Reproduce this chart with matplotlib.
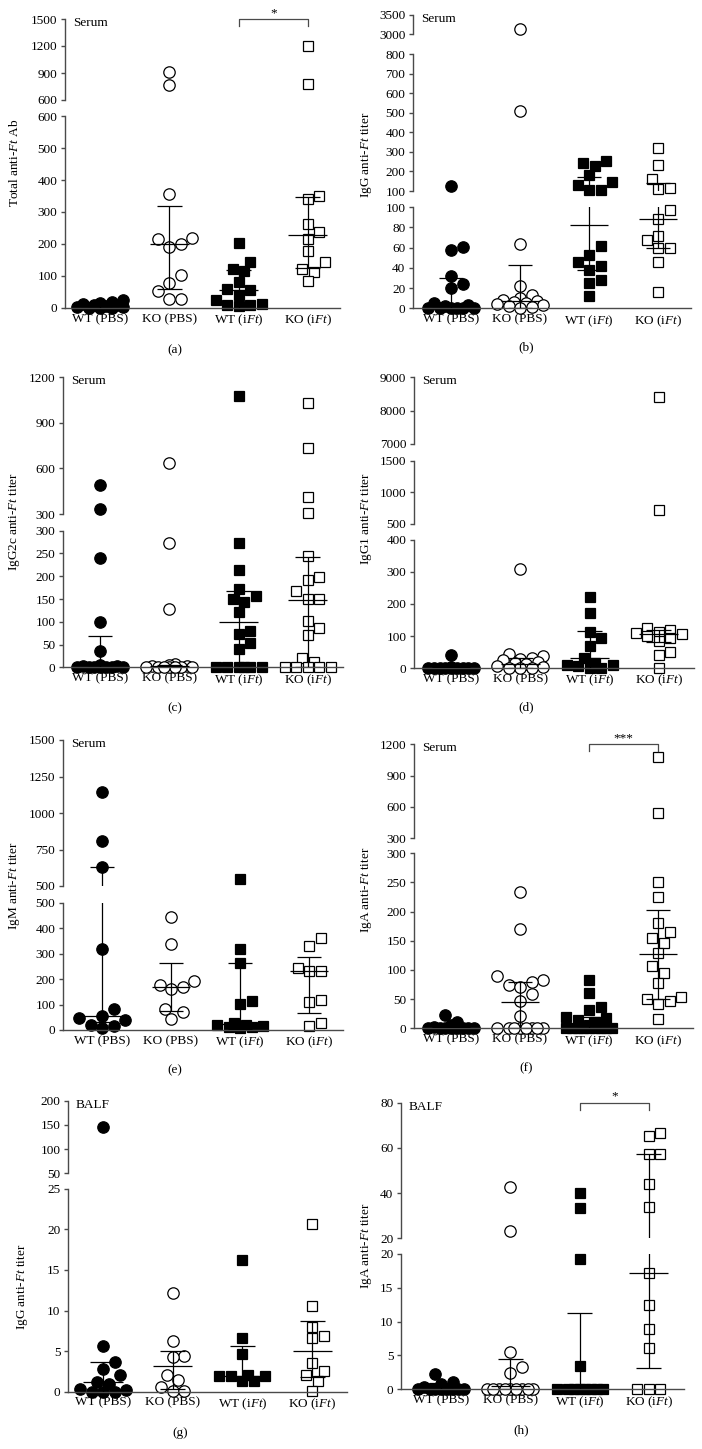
import matplotlib
matplotlib.use('Agg')
import matplotlib.pyplot as plt
import numpy as np

plt.rcParams['font.family'] = ['Liberation Serif', 'DejaVu Serif']
plt.rcParams['mathtext.fontset'] = 'custom'
plt.rcParams['mathtext.rm'] = 'Liberation Serif'
plt.rcParams['mathtext.it'] = 'Liberation Serif:italic'

W, H = 702, 1449
FS = 9.5
SPINE = '#4a4a4a'

groups = ['WT (PBS)', 'KO (PBS)', 'WT (i$\\mathit{Ft}$)', 'KO (i$\\mathit{Ft}$)']

# (a) total anti-Ft Ab, serum
total_ab = [
    [0, 0, 2, 4, 5, 8, 10, 12, 15, 18, 25, 0],
    [767, 915, 355, 216, 218, 192, 200, 103, 79, 54, 27, 27],
    [202, 145, 115, 122, 82, 60, 55, 40, 25, 10, 12, 5, 8],
    [1204, 778, 350, 341, 261, 238, 217, 179, 143, 121, 114, 84],
]
total_ab_bars = [(6, 0, 14), (200, 60, 320), (57, 0, 120), (228, 125, 347)]

# (b) IgG, serum
igg_serum = [
    [127, 61, 58, 32, 24, 20, 5, 3, 2, 0, 0, 0, 0, 0, 0],
    [3130, 510, 64, 22, 13, 10, 8, 7, 6, 5, 4, 3, 2, 1, 0],
    [255, 245, 230, 182, 144, 129, 105, 105, 62, 53, 46, 42, 38, 28, 25, 12],
    [318, 235, 160, 114, 112, 97, 88, 72, 68, 60, 60, 46, 16],
]
igg_serum_bars = [(2, 0, 30), (7, 0, 43), (82, 38, 173), (88, 60, 143)]

# (c) IgG2c, serum
igg2c = [
    [491, 333, 241, 100, 36, 5, 3, 2, 0, 0, 0, 0, 0, 0, 0],
    [638, 274, 128, 8, 5, 3, 2, 0, 0, 0, 0, 0, 0, 0],
    [1079, 272, 214, 171, 157, 149, 143, 122, 80, 73, 53, 41, 0, 0, 0, 0, 0, 0],
    [1032, 732, 410, 304, 244, 199, 192, 167, 149, 150, 102, 87, 72, 21, 12,
     0, 0, 0, 0, 0],
]
igg2c_bars = [(0, 0, 68), (2, 0, 6), (100, 0, 167), (148, 0, 243)]

# (d) IgG1, serum
igg1 = [
    [41, 2, 0, 0, 0, 0, 0, 0, 0, 0, 0],
    [308, 44, 38, 30, 27, 25, 20, 15, 12, 5, 2, 0, 0, 0],
    [223, 171, 114, 95, 70, 32, 15, 10, 10, 5, 0, 0],
    [8420, 721, 126, 118, 114, 110, 105, 100, 95, 85, 51, 42, 0],
]
igg1_bars = [(4, 0, 12), (12, 0, 30), (30, 0, 115), (105, 80, 118)]

# (e) IgM, serum
igm = [
    [1146, 810, 632, 319, 81, 56, 46, 39, 20, 15, 7],
    [445, 338, 192, 175, 170, 160, 81, 69, 43],
    [546, 317, 264, 114, 101, 26, 20, 18, 15, 12, 10, 8],
    [360, 330, 242, 233, 232, 118, 111, 26, 16],
]
igm_bars = [(55, 30, 630), (168, 75, 264), (25, 5, 265), (232, 68, 285)]

# (f) IgA, serum
iga_serum = [
    [23, 10, 5, 3, 0, 0, 0, 0, 0, 0, 0, 0],
    [234, 171, 89, 83, 80, 74, 71, 59, 46, 21, 0, 0, 0, 0, 0, 0, 0, 0],
    [82, 60, 37, 31, 20, 18, 15, 10, 5, 0, 0, 0, 0, 0, 0, 0, 0, 0],
    [1083, 540, 250, 225, 181, 165, 155, 147, 129, 107, 94, 78, 53, 50, 46, 41, 16],
]
iga_serum_bars = [(3, 0, 8), (45, 0, 80), (8, 0, 20), (128, 50, 202)]

# (g) IgG, BALF
igg_balf = [
    [145, 5.67, 3.7, 2.83, 2.05, 1.23, 1.0, 0.3, 0.2, 0, 0, 0],
    [12.2, 6.28, 4.4, 4.3, 2.1, 1.44, 0.53, 0.1, 0.1],
    [16.2, 6.6, 4.7, 2.05, 1.9, 1.9, 1.35, 1.35, 1.9],
    [20.6, 10.6, 8.0, 6.9, 6.65, 3.5, 2.55, 2.1, 1.3, 0.1],
]
igg_balf_bars = [(1.2, 0, 3.6), (3.2, 0.3, 5.0), (1.9, 1.5, 5.6), (5.05, 1.85, 8.7)]

# (h) IgA, BALF
iga_balf = [
    [2.27, 1.13, 0.8, 0.3, 0, 0, 0, 0, 0, 0, 0, 0],
    [42.9, 23.2, 5.47, 3.35, 2.46, 0, 0, 0, 0, 0, 0, 0, 0, 0],
    [40.2, 33.2, 19.2, 3.45, 0, 0, 0, 0, 0, 0, 0, 0],
    [66.8, 65.3, 57.4, 57.4, 44.0, 34.0, 17.2, 12.4, 8.9, 6.16, 0, 0, 0],
]
iga_balf_bars = [(0.3, 0, 1.0), (0.5, 0, 4.43), (0, 0, 11.3), (17.2, 3.1, 57.4)]

markers = [('o', 'black'), ('o', 'white'), ('s', 'black'), ('s', 'white')]
MS = {'o': 8.2, 's': 7.6}
D = 11.5  # marker diameter in px for the swarm


def pick(segs, v):
    for ax, lo, hi in segs:
        if lo <= v <= hi:
            return ax
    return segs[-1][0]


def swarm(segs, vals, ppu):
    pys = [pick(segs, v).transData.transform((0, v))[1] for v in vals]
    maxw = 0.35 * ppu
    cands = [0.0]
    k = 1
    while k * D * 0.5 <= maxw:
        cands += [k * D * 0.5, -k * D * 0.5]
        k += 1
    placed = []
    offs = np.zeros(len(vals))
    for i in np.argsort(pys, kind='stable'):
        py = pys[i]
        best, best_d = 0.0, -1
        for c in cands:
            d = min([np.hypot(c - ox, py - oy) for ox, oy in placed], default=1e9)
            if d >= D * 0.95:
                best = c
                break
            if d > best_d:
                best, best_d = c, d
        placed.append((best, py))
        offs[i] = best / ppu
    return offs


def draw_panel(fig, data, bars, ylabel, x0, x1, c0, step, segs, ylab, letter,
               tag='Serum', sig=None):
    xl = (x0 - c0) / step
    xr = (x1 - c0) / step
    axes = []
    for n, (lo, hi, yb, yt, ticks) in enumerate(segs):
        ax = fig.add_axes([x0 / W, 1 - yb / H, (x1 - x0) / W, (yb - yt) / H])
        ax.set_facecolor('none')
        ax.set_xlim(xl, xr)
        ax.set_ylim(lo, hi)
        for s in ['top', 'right']:
            ax.spines[s].set_visible(False)
        ax.spines['left'].set_color(SPINE)
        ax.spines['left'].set_linewidth(1.0)
        ax.set_yticks(ticks)
        ax.set_yticklabels([str(t) for t in ticks], fontsize=FS)
        ax.tick_params(axis='y', length=3, width=1.0, color=SPINE, pad=2.5)
        if n == 0:
            ax.spines['bottom'].set_color(SPINE)
            ax.spines['bottom'].set_linewidth(1.0)
            ax.set_xticks(range(4))
            ax.set_xticklabels(groups, fontsize=FS)
            ax.tick_params(axis='x', length=0, pad=3.5)
        else:
            ax.spines['bottom'].set_visible(False)
            ax.set_xticks([])
        axes.append((ax, lo, hi))

    for i, vals in enumerate(data):
        offs = swarm(axes, vals, step)
        m, fc = markers[i]
        for v, o in zip(vals, offs):
            ax = pick(axes, v)
            ax.plot(i + o, v, marker=m, ls='none', ms=MS[m], mfc=fc, mec='black',
                    mew=0.9, clip_on=False, zorder=2)
        c, lo, hi = bars[i]
        for ax, _, _ in axes:
            kw = dict(color='black', lw=0.9, zorder=3, solid_capstyle='butt')
            ax.plot([i - 0.28, i + 0.28], [c, c], **kw)
            ax.plot([i, i], [lo, hi], **kw)
            ax.plot([i - 0.18, i + 0.18], [lo, lo], **kw)
            ax.plot([i - 0.18, i + 0.18], [hi, hi], **kw)

    top_ax, tlo, thi = axes[-1]
    yb, yt = segs[-1][2], segs[-1][3]
    if sig:
        t = 7 * (thi - tlo) / (yb - yt)
        top_ax.plot([2, 2, 3, 3], [thi - t, thi, thi, thi - t], color=SPINE,
                    lw=0.9, clip_on=False)
        top_ax.annotate(sig, xy=(2.5, thi), xytext=(0, 0), textcoords='offset points',
                        ha='center', va='bottom', fontsize=FS)

    fig.text((x0 + 8) / W, 1 - (yt + 4) / H, tag, ha='left', va='center', fontsize=FS)
    fig.text(ylab[0] / W, 1 - ylab[1] / H, ylabel, rotation=90, ha='center',
             va='center', fontsize=FS)
    fig.text(letter[1] / W, 1 - letter[2] / H, letter[0], ha='center', va='center',
             fontsize=FS)


fig = plt.figure(figsize=(W / 100, H / 100), dpi=100)

draw_panel(fig, total_ab, total_ab_bars, 'Total anti-$\\mathit{Ft}$ Ab',
           65, 340, 100, 69.3,
           [(0, 600, 308, 116, [0, 100, 200, 300, 400, 500, 600]),
            (600, 1500, 100, 19, [600, 900, 1200, 1500])],
           (15, 163), ('(a)', 175, 350), sig='*')

draw_panel(fig, igg_serum, igg_serum_bars, 'IgG anti-$\\mathit{Ft}$ titer',
           413, 691, 451, 69,
           [(0, 100, 308.3, 207.3, [0, 20, 40, 60, 80, 100]),
            (100, 800, 191, 54.3, [100, 200, 300, 400, 500, 600, 700, 800]),
            (3000, 3500, 34.3, 14.7, [3000, 3500])],
           (366, 155), ('(b)', 526, 347))

draw_panel(fig, igg2c, igg2c_bars, 'IgG2c anti-$\\mathit{Ft}$ titer',
           63, 343, 100, 69.3,
           [(0, 300, 667.3, 530.7, [0, 50, 100, 150, 200, 250, 300]),
            (300, 1200, 514, 377.3, [300, 600, 900, 1200])],
           (15, 522), ('(c)', 175, 708))

draw_panel(fig, igg1, igg1_bars, 'IgG1 anti-$\\mathit{Ft}$ titer',
           414, 694, 451, 69.3,
           [(0, 400, 668, 540, [0, 100, 200, 300, 400]),
            (500, 1500, 524, 460.7, [500, 1000, 1500]),
            (7000, 9000, 444, 377.3, [7000, 8000, 9000])],
           (366, 518), ('(d)', 526, 707))

draw_panel(fig, igm, igm_bars, 'IgM anti-$\\mathit{Ft}$ titer',
           63, 343, 102, 69,
           [(0, 500, 1030, 902.7, [0, 100, 200, 300, 400, 500]),
            (500, 1500, 886, 740, [500, 750, 1000, 1250, 1500])],
           (15, 886), ('(e)', 175, 1070))

draw_panel(fig, iga_serum, iga_serum_bars, 'IgA anti-$\\mathit{Ft}$ titer',
           414, 693, 451, 69,
           [(0, 300, 1028.3, 853.3, [0, 50, 100, 150, 200, 250, 300]),
            (300, 1200, 838.3, 744.3, [300, 600, 900, 1200])],
           (366, 890), ('(f)', 526, 1068), sig='***')

draw_panel(fig, igg_balf, igg_balf_bars, 'IgG anti-$\\mathit{Ft}$ titer',
           68, 347, 103, 69.7,
           [(0, 25, 1391.7, 1188.7, [0, 5, 10, 15, 20, 25]),
            (50, 200, 1173.3, 1100.7, [50, 100, 150, 200])],
           (23, 1287), ('(g)', 180, 1433), tag='BALF')

draw_panel(fig, iga_balf, iga_balf_bars, 'IgA anti-$\\mathit{Ft}$ titer',
           401, 684, 441, 69.3,
           [(0, 20, 1389.3, 1254, [0, 5, 10, 15, 20]),
            (20, 80, 1238.3, 1102.7, [20, 40, 60, 80])],
           (366, 1246), ('(h)', 521, 1430), tag='BALF', sig='*')

fig.savefig('out.png', dpi=100)
